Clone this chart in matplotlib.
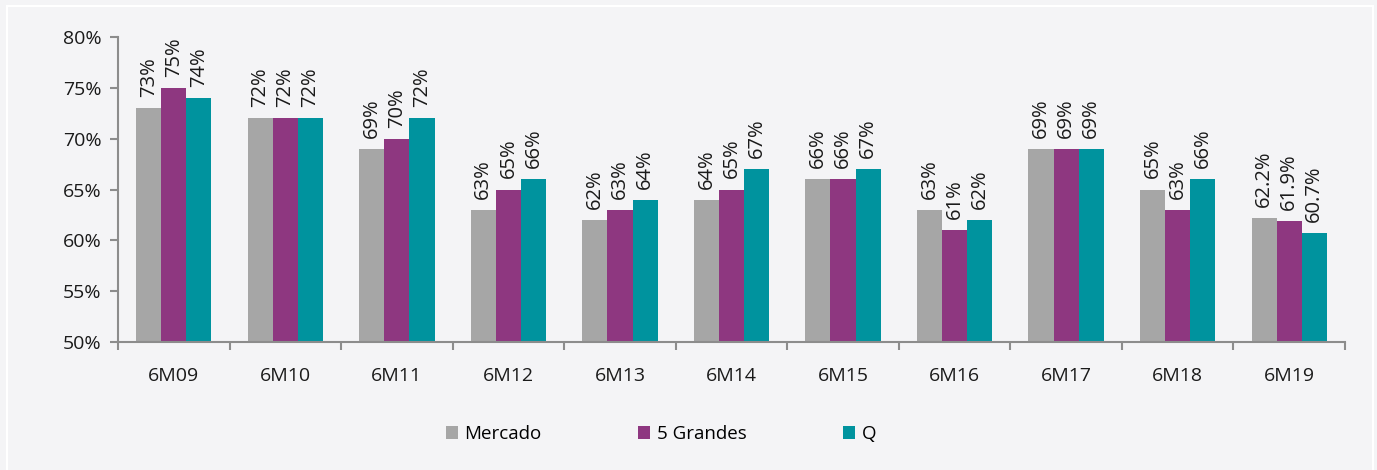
import matplotlib
matplotlib.use('Agg')
import matplotlib.pyplot as plt
from matplotlib.patches import Rectangle
import numpy as np

### DATA
periods = ['6M09', '6M10', '6M11', '6M12', '6M13', '6M14', '6M15', '6M16', '6M17', '6M18', '6M19']
mercado = [73, 72, 69, 63, 62, 64, 66, 63, 69, 65, 62.2]
grandes = [75, 72, 70, 65, 63, 65, 66, 61, 69, 63, 61.9]
q_vals = [74, 72, 72, 66, 64, 67, 67, 62, 69, 66, 60.7]
mercado_lbl = ['73%', '72%', '69%', '63%', '62%', '64%', '66%', '63%', '69%', '65%', '62.2%']
grandes_lbl = ['75%', '72%', '70%', '65%', '63%', '65%', '66%', '61%', '69%', '63%', '61.9%']
q_lbl = ['74%', '72%', '72%', '66%', '64%', '67%', '67%', '62%', '69%', '66%', '60.7%']

series = [('Mercado', mercado, mercado_lbl, '#a6a6a6'),
          ('5 Grandes', grandes, grandes_lbl, '#8e3780'),
          ('Q', q_vals, q_lbl, '#00939e')]

plt.rcParams['font.family'] = ['Open Sans', 'DejaVu Sans']
bg = '#f4f4f6'

fig = plt.figure(figsize=(13.77, 4.70), dpi=100, facecolor=bg)
# thin white frame around the panel
fig.patches.append(Rectangle((7/1377, -0.02), (1373-7)/1377, 1 - 6/470 + 0.02,
                             transform=fig.transFigure, fill=False,
                             edgecolor='white', linewidth=1.5, zorder=0))

ax = fig.add_axes([118/1377, 1 - 342/470, (1345-118)/1377, (342-37)/470])
ax.set_facecolor('none')

x = np.arange(len(periods))
w = 0.225
for k, (name, vals, lbls, col) in enumerate(series):
    pos = x + (k - 1) * w
    bars = ax.bar(pos, vals, width=w, color=col, label=name, zorder=2)
    for p, v, t in zip(pos, vals, lbls):
        ax.annotate(t, (p, v), xytext=(0, 8), textcoords='offset points',
                    rotation=90, ha='center', va='bottom', fontsize=14.5, color='#1a1a1a')

ax.set_xlim(-0.5, len(periods) - 0.5)
ax.set_ylim(50, 80)
ax.set_yticks(range(50, 81, 5))
ax.set_yticklabels([f'{v}%' for v in range(50, 81, 5)], fontsize=14, color='#1a1a1a')

# ticks between groups
ax.set_xticks(np.arange(-0.5, len(periods), 1))
ax.set_xticklabels([])
ax.set_xticks(x, minor=True)
ax.set_xticklabels(periods, minor=True, fontsize=14, color='#1a1a1a')
ax.tick_params(axis='x', which='major', length=6, color='#8c8c8c', width=1.5, direction='out')
ax.tick_params(axis='x', which='minor', length=0, pad=18)
ax.tick_params(axis='y', length=6, color='#8c8c8c', width=1.5, direction='out', pad=6)

for s in ['top', 'right']:
    ax.spines[s].set_visible(False)
ax.spines['left'].set_color('#8c8c8c')
ax.spines['bottom'].set_color('#8c8c8c')
ax.spines['left'].set_linewidth(1.5)
ax.spines['bottom'].set_linewidth(1.5)

leg = fig.legend(loc='center', bbox_to_anchor=(661/1377, 1 - 434/470), ncol=3, frameon=False,
                 fontsize=13.5, handlelength=0.65, handleheight=0.65, handletextpad=0.35,
                 columnspacing=5.15)

fig.savefig('out.png', dpi=100, facecolor=bg)
